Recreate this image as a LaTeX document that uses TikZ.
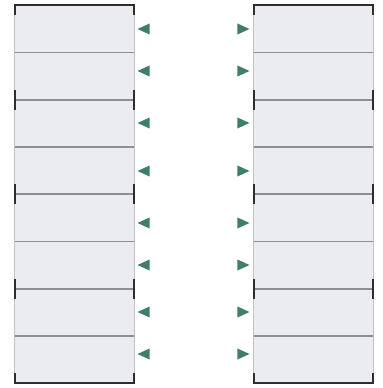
\documentclass[tikz,border=0pt]{standalone}
\usepackage{tikz}
\usetikzlibrary{shapes.geometric}
\definecolor{cBay}{HTML}{EBECF0}
\definecolor{cRule}{HTML}{8E8E92}
\definecolor{cSide}{HTML}{C2C2C6}
\definecolor{cEdge}{HTML}{2E2E2E}
\definecolor{cMark}{HTML}{3F7E6B}
\tikzset{
  bay/.style     = {rectangle, fill=cBay, draw=none, inner sep=0pt,
                    minimum width=2.38cm, minimum height=0.945cm},
  divider/.style = {draw=cRule, line width=1pt},
  flank/.style   = {draw=cSide, line width=0.9pt},
  rim/.style     = {draw=cEdge, line width=1.3pt},
  pointer/.style = {isosceles triangle, isosceles triangle stretches, fill=cMark,
                    draw=none, inner sep=0pt, minimum width=0.22cm, minimum height=0.24cm},
}

\begin{document}
\begin{tikzpicture}[x=0.02cm, y=-0.02cm]
  \useasboundingbox (0,0) rectangle (382,388);

  % two stacks of bays
  \foreach \i in {1,...,8} {
    \node[bay] (L\i) at (74.5, {5+47.25*(\i-0.5)}) {};
    \node[bay] (R\i) at (313.5, {5+47.25*(\i-0.5)}) {};
  }
  \foreach \i in {1,...,7} {
    \draw[divider] (L\i.south west) -- (L\i.south east);
    \draw[divider] (R\i.south west) -- (R\i.south east);
  }
  \foreach \s in {L,R} {
    \draw[flank] (\s1.north west) -- (\s8.south west);
    \draw[flank] (\s1.north east) -- (\s8.south east);
    \draw[rim] ([yshift=-0.2cm]\s1.north west) -- (\s1.north west)
               -- (\s1.north east) -- ([yshift=-0.2cm]\s1.north east);
    \draw[rim] ([yshift=0.2cm]\s8.south west) -- (\s8.south west)
               -- (\s8.south east) -- ([yshift=0.2cm]\s8.south east);
    \foreach \i in {2,4,6} {
      \draw[rim] ([yshift=0.2cm]\s\i.south west) -- ([yshift=-0.2cm]\s\i.south west);
      \draw[rim] ([yshift=0.2cm]\s\i.south east) -- ([yshift=-0.2cm]\s\i.south east);
    }
  }

  % markers
  \foreach \y [count=\i] in {29,71,123,171,223,265,312,354} {
    \node[pointer, shape border rotate=180] (ml\i) at (146,\y) {};
    \node[pointer] (mr\i) at (241,\y) {};
  }
\end{tikzpicture}
\end{document}
